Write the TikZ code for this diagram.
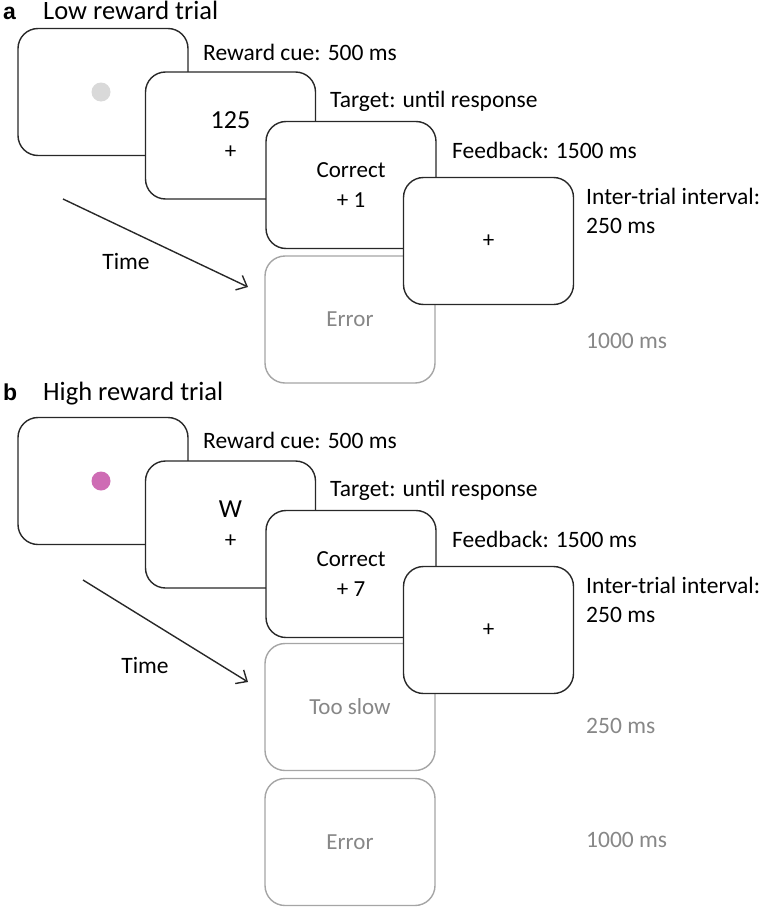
\documentclass[tikz,border=0pt]{standalone}
\usepackage{fontspec}
\setmainfont{Carlito}
\newfontfamily\panelfont{Liberation Sans}
\usetikzlibrary{arrows.meta}

\definecolor{linegray}{RGB}{40,40,40}
\definecolor{fadegray}{RGB}{165,165,165}
\definecolor{fadetext}{RGB}{135,135,135}
\definecolor{cuegray}{RGB}{217,217,217}
\definecolor{cuepink}{RGB}{206,108,180}

\newcommand{\bigsym}[1]{{\fontsize{26}{30}\selectfont #1}}

\tikzset{
	screen/.style={shape=rectangle, rounded corners=20pt, draw=linegray, line width=1.4pt, fill=white,
		minimum width=170pt, minimum height=127pt, inner sep=0pt, align=center, text=black,
		font=\fontsize{23}{30}\selectfont},
	fadescreen/.style={screen, draw=fadegray, text=fadetext},
	cue/.style={shape=circle, minimum size=19pt, inner sep=0pt},
	lbl/.style={anchor=base west, inner sep=0pt, font=\fontsize{23.5}{29}\selectfont},
	fadelbl/.style={lbl, text=fadetext},
	title/.style={anchor=base west, inner sep=0pt, font=\fontsize{26.5}{30}\selectfont},
	panel/.style={anchor=base west, inner sep=0pt, font=\panelfont\bfseries\fontsize{23}{26}\selectfont},
	timearrow/.style={line width=1.4pt, draw=linegray, -{Straight Barb[length=9pt,width=16pt]}}
}

\begin{document}
\begin{tikzpicture}[x=1pt, y=1pt]
		\useasboundingbox (0,0) rectangle (762,-907);
		% Low reward trial
		\node[panel] (labA) at (3,-20) {a};
		\node[title] (titleA) at (43,-20) {Low reward trial};
		\node[screen] (A1) at (103,-92) {};
		\node[cue, fill=cuegray] (cueA) at (101,-92) {};
		\node[screen] (A2) at (230.5,-135.5) {\bigsym{125}\\+};
		\node[screen] (A3) at (351,-185) {Correct\\+ 1};
		\node[fadescreen] (Aerr) at (350,-319.5) {Error};
		\node[screen] (A4) at (488.5,-241) {+};
		% Low reward trial timings
		\node[lbl] (cueTxtA) at (203,-60) {Reward cue: 500 ms};
		\node[lbl] (tgtTxtA) at (330,-107) {Target: until response};
		\node[lbl] (fbTxtA) at (452,-158) {Feedback: 1500 ms};
		\node[lbl, align=left] (itiTxtA) at (586,-233) {Inter-trial interval:\\250 ms};
		\node[fadelbl] (errTxtA) at (586,-348) {1000 ms};
		% Low reward trial time arrow
		\coordinate (tA0) at (63,-199);
		\coordinate (tA1) at (248,-287);
		\draw[timearrow] (tA0) -- (tA1);
		\node[lbl, anchor=base] (timeA) at (126,-269) {Time};
		% High reward trial
		\node[panel] (labB) at (3,-400) {b};
		\node[title] (titleB) at (43,-400) {High reward trial};
		\node[screen] (B1) at (103,-481) {};
		\node[cue, fill=cuepink] (cueB) at (101,-481) {};
		\node[screen] (B2) at (230.5,-524.5) {\bigsym{W}\\+};
		\node[screen] (B3) at (351,-574) {Correct\\+ 7};
		\node[fadescreen] (Bslow) at (350,-707) {Too slow};
		\node[fadescreen] (Berr) at (350,-842) {Error};
		\node[screen] (B4) at (488.5,-630) {+};
		% High reward trial timings
		\node[lbl] (cueTxtB) at (203,-448) {Reward cue: 500 ms};
		\node[lbl] (tgtTxtB) at (330,-496) {Target: until response};
		\node[lbl] (fbTxtB) at (452,-547) {Feedback: 1500 ms};
		\node[lbl, align=left] (itiTxtB) at (586,-622) {Inter-trial interval:\\250 ms};
		\node[fadelbl] (slowTxtB) at (586,-733) {250 ms};
		\node[fadelbl] (errTxtB) at (586,-847) {1000 ms};
		% High reward trial time arrow
		\coordinate (tB0) at (83,-580);
		\coordinate (tB1) at (248,-682);
		\draw[timearrow] (tB0) -- (tB1);
		\node[lbl, anchor=base] (timeB) at (145,-673) {Time};
	\end{tikzpicture}
\end{document}
